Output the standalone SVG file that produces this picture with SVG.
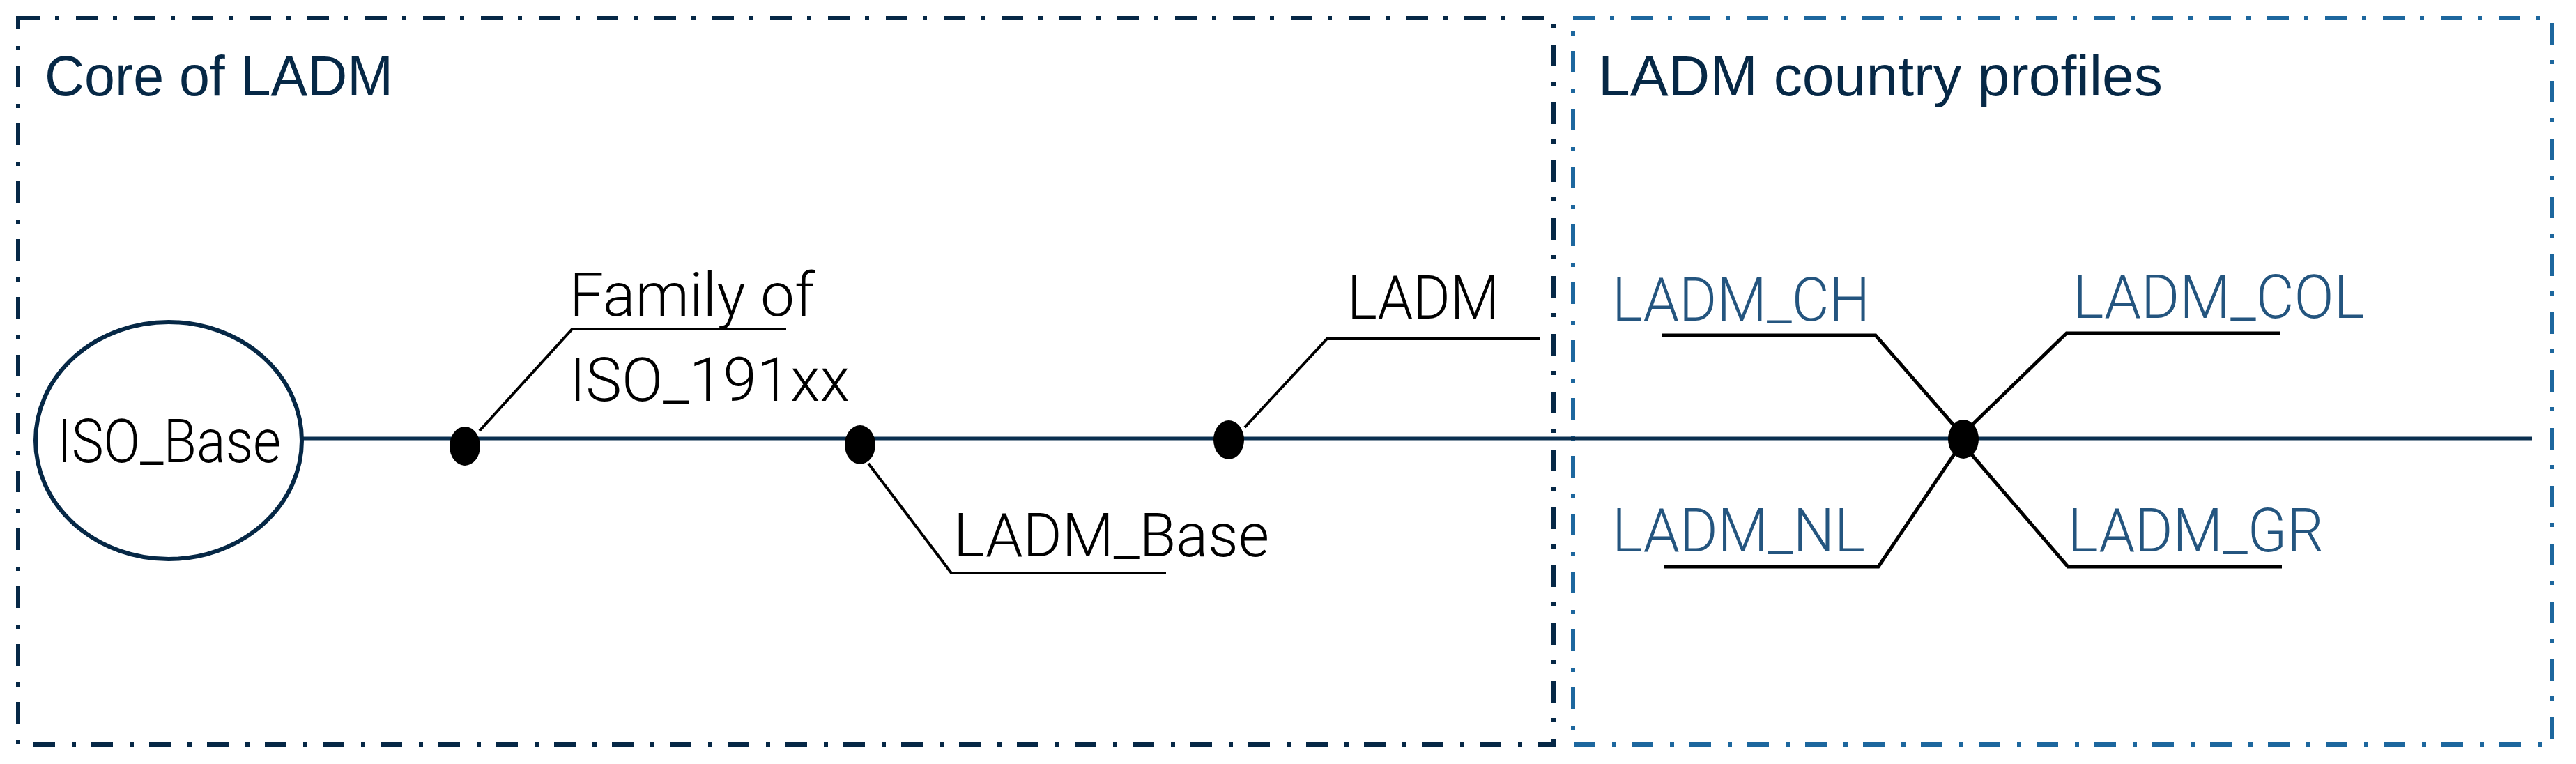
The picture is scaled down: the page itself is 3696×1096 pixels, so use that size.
<svg xmlns="http://www.w3.org/2000/svg" width="3696" height="1096" viewBox="0 0 3696 1096">
<style>
.frame{fill:none;stroke-width:6;stroke-dasharray:31 22 6 24}
.core{stroke:#062846}
.prof{stroke:#1d679e}
.title{font-family:"Liberation Sans",Arial,sans-serif;font-size:82px;fill:#062846}
.lbl{font-family:Roboto,"Liberation Sans",Arial,sans-serif;font-weight:300;font-size:88px;fill:#000}
.blbl{font-family:Roboto,"Liberation Sans",Arial,sans-serif;font-weight:300;font-size:88px;fill:#24557f}
.main{stroke:#0a2f4f;stroke-width:5;fill:none}
.lead{stroke:#000;stroke-width:4;fill:none}
.lead2{stroke:#000;stroke-width:5;fill:none}
.dot{fill:#000}
</style>
<rect width="3696" height="1096" fill="#fff"/>
<g id="core-of-ladm">
<rect class="frame core" x="26" y="26" width="2203" height="1042"/>
<text class="title" x="64" y="137" textLength="500" lengthAdjust="spacingAndGlyphs">Core of LADM</text>
</g>
<g id="ladm-country-profiles">
<rect class="frame prof" x="2257" y="26" width="1404" height="1042"/>
<text class="title" x="2293" y="137" textLength="810" lengthAdjust="spacingAndGlyphs">LADM country profiles</text>
</g>
<g id="connectors">
<line class="main" x1="433" y1="629" x2="3633" y2="629"/>
<polyline class="lead" points="688,618 821,472 1128,472"/>
<polyline class="lead" points="1246,665 1365,822 1673,822"/>
<polyline class="lead" points="1786,613 1904,486 2210,486"/>
<polyline class="lead2" points="2384,481 2691,481 2805,612"/>
<polyline class="lead2" points="3271,478 2965,478 2829,610"/>
<polyline class="lead2" points="2388,813 2695,813 2805,650"/>
<polyline class="lead2" points="3274,813 2967,813 2827,650"/>
</g>
<g id="junctions">
<ellipse class="dot" cx="667" cy="640" rx="22" ry="28"/>
<ellipse class="dot" cx="1234" cy="638" rx="22" ry="28"/>
<ellipse class="dot" cx="1763" cy="631" rx="22" ry="28"/>
<ellipse class="dot" cx="2817" cy="630" rx="22" ry="28"/>
</g>
<g id="iso-base">
<ellipse cx="242" cy="632" rx="191" ry="170" fill="#fff" stroke="#062846" stroke-width="6"/>
<text class="lbl" x="82" y="663" font-size="82" textLength="321" lengthAdjust="spacingAndGlyphs">ISO_Base</text>
</g>
<g id="family-of-iso-191xx">
<text class="lbl" x="817" y="453" textLength="352" lengthAdjust="spacingAndGlyphs">Family of</text>
<text class="lbl" x="817" y="575" textLength="402" lengthAdjust="spacingAndGlyphs">ISO_191xx</text>
</g>
<g id="ladm-base">
<text class="lbl" x="1368" y="798" textLength="453" lengthAdjust="spacingAndGlyphs">LADM_Base</text>
</g>
<g id="ladm">
<text class="lbl" x="1933" y="457" textLength="218" lengthAdjust="spacingAndGlyphs">LADM</text>
</g>
<g id="ladm-ch">
<text class="blbl" x="2313" y="460" textLength="370" lengthAdjust="spacingAndGlyphs">LADM_CH</text>
</g>
<g id="ladm-col">
<text class="blbl" x="2974" y="456" textLength="419" lengthAdjust="spacingAndGlyphs">LADM_COL</text>
</g>
<g id="ladm-nl">
<text class="blbl" x="2313" y="791" textLength="363" lengthAdjust="spacingAndGlyphs">LADM_NL</text>
</g>
<g id="ladm-gr">
<text class="blbl" x="2967" y="791" textLength="367" lengthAdjust="spacingAndGlyphs">LADM_GR</text>
</g>
</svg>
